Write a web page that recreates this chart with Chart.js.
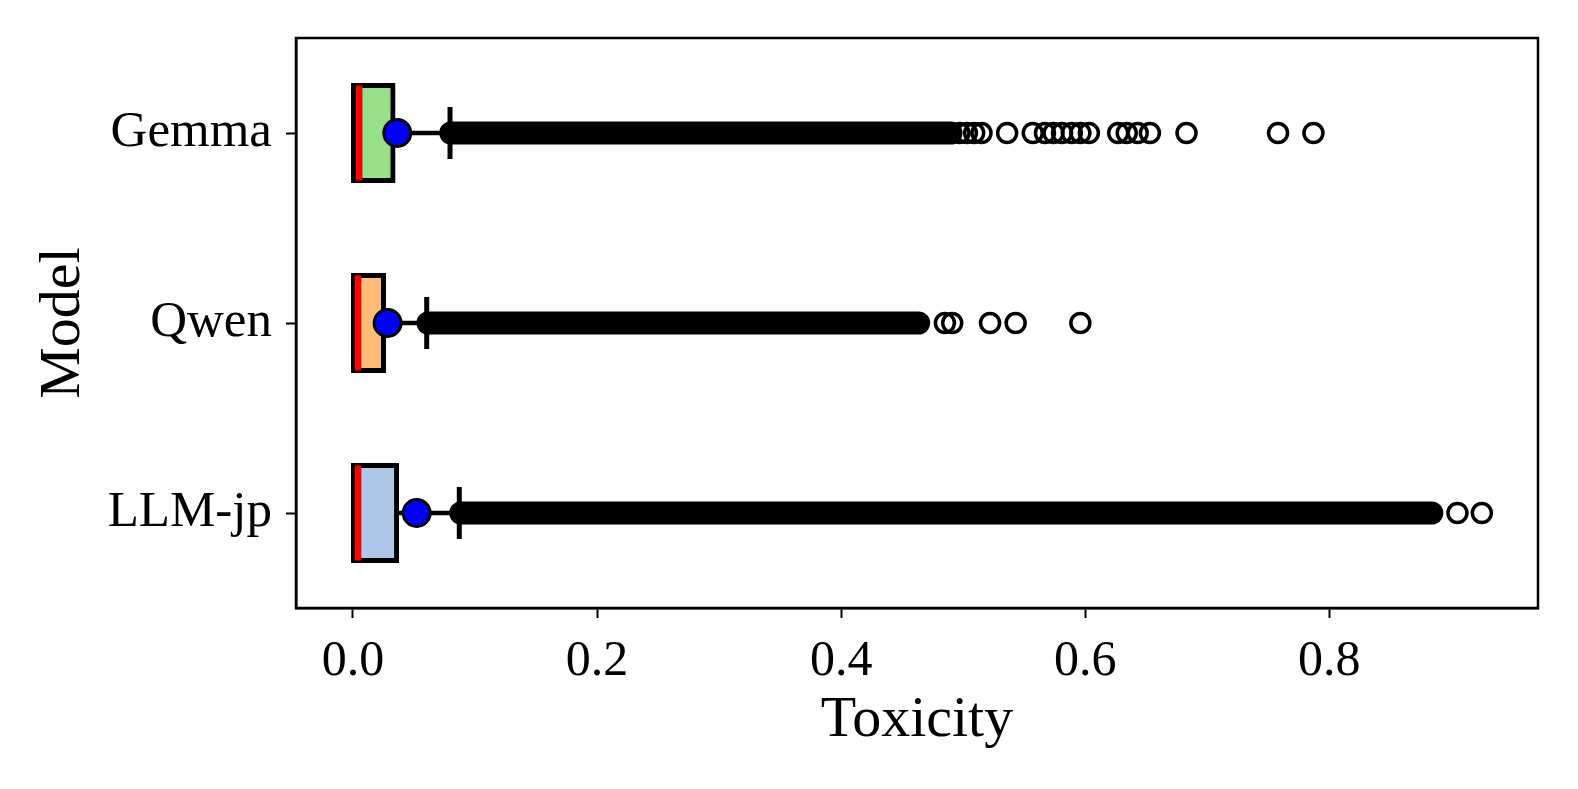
<!DOCTYPE html>
<html>
<head>
<meta charset="utf-8">
<title>Toxicity by model</title>
<script src="https://cdn.jsdelivr.net/npm/chart.js@4.4.1/dist/chart.umd.min.js"></script>
<style>
  html, body { margin: 0; padding: 0; background: #fff; }
</style>
</head>
<body>
<canvas id="toxChart" width="1578" height="789"></canvas>
<script>
const models = ['Gemma', 'Qwen', 'LLM-jp'];
const q1 = [0, 0, 0];
const q3 = [0.0328, 0.025, 0.0357];
const medians = [0.0051, 0.0042, 0.0042];
const means = [0.0363, 0.0284, 0.0522];
const whiskerHi = [0.0795, 0.0604, 0.0871];

// outliers packed so tight they read as one solid run: [first, last]
const denseRuns = [[0.0801, 0.490], [0.0614, 0.4635], [0.0883, 0.884]];

const gemmaOutliers = [0.497, 0.503, 0.509, 0.515, 0.536, 0.557, 0.567, 0.574, 0.581, 0.589,
  0.596, 0.603, 0.627, 0.634, 0.643, 0.653, 0.683, 0.758, 0.787];
const qwenOutliers = [0.485, 0.491, 0.522, 0.543, 0.596];
const llmjpOutliers = [0.905, 0.925];

const xTicks = [0, 0.2, 0.4, 0.6, 0.8];

const boxColors = ['#98df8a', '#ffbb78', '#aec7e8'];
const serif = 'Liberation Serif';

const atModels = vals => vals.map((v, i) => ({ x: v, y: models[i] }));
const outlierPoints = [gemmaOutliers, qwenOutliers, llmjpOutliers]
  .flatMap((vals, i) => vals.map(v => ({ x: v, y: models[i] })));

const segment = (from, to, i) => [{ x: from, y: models[i] }, { x: to, y: models[i] }];

const runDatasets = denseRuns.map((run, i) => ({
  type: 'line',
  data: segment(run[0], run[1], i),
  borderColor: '#000',
  borderWidth: 23,
  borderCapStyle: 'round',
  pointRadius: 0
}));

const whiskerDatasets = models.map((m, i) => ({
  type: 'line',
  data: segment(q3[i], whiskerHi[i], i),
  borderColor: '#000',
  borderWidth: 4.5,
  pointRadius: 0
}));

const frame = {
  id: 'frame',
  afterDatasetsDraw(chart) {
    const { ctx, chartArea: a } = chart;
    ctx.save();
    ctx.strokeStyle = '#000';
    ctx.lineWidth = 2.5;
    ctx.strokeRect(a.left, a.top, a.right - a.left, a.bottom - a.top);
    ctx.restore();
  }
};

new Chart(document.getElementById('toxChart'), {
  type: 'bar',
  data: {
    labels: models,
    datasets: [
      {
        type: 'scatter',
        data: atModels(means),
        pointRadius: 13.5,
        pointBackgroundColor: '#0000ff',
        pointBorderColor: '#000',
        pointBorderWidth: 3
      },
      {
        type: 'scatter',
        data: atModels(medians),
        pointStyle: 'line',
        rotation: 90,
        pointRadius: 47.5,
        pointBorderColor: '#ff0000',
        pointBorderWidth: 6.5
      },
      {
        type: 'scatter',
        data: outlierPoints,
        pointRadius: 9.5,
        pointBackgroundColor: 'rgba(0,0,0,0)',
        pointBorderColor: '#000',
        pointBorderWidth: 3.5
      },
      ...runDatasets,
      {
        type: 'scatter',
        data: atModels(whiskerHi),
        pointStyle: 'line',
        rotation: 90,
        pointRadius: 26,
        pointBorderColor: '#000',
        pointBorderWidth: 5
      },
      ...whiskerDatasets,
      {
        data: q1.map((v, i) => [v, q3[i]]),
        backgroundColor: boxColors,
        borderColor: '#000',
        borderWidth: 5,
        borderSkipped: false,
        inflateAmount: 2.5,
        barPercentage: 0.5,
        categoryPercentage: 1,
        grouped: false
      }
    ]
  },
  options: {
    indexAxis: 'y',
    responsive: false,
    animation: false,
    events: [],
    layout: { autoPadding: false, padding: { top: 38, right: 40, left: 0, bottom: 0 } },
    plugins: { legend: { display: false }, tooltip: { enabled: false } },
    scales: {
      x: {
        type: 'linear',
        min: -0.0467,
        max: 0.971,
        afterBuildTicks: s => { s.ticks = xTicks.map(v => ({ value: v })); },
        afterFit: s => { s.height = 181; },
        ticks: {
          callback: v => v.toFixed(1),
          color: '#000',
          padding: 14,
          font: { family: serif, size: 50 }
        },
        grid: { drawOnChartArea: false, tickLength: 10, tickWidth: 2, tickColor: '#000' },
        border: { color: '#000', width: 2.5 },
        title: {
          display: true,
          text: 'Toxicity',
          color: '#000',
          font: { family: serif, size: 58 },
          padding: { top: 0, bottom: 33 }
        }
      },
      y: {
        type: 'category',
        labels: models,
        offset: true,
        afterFit: s => { s.width = 296; },
        ticks: {
          color: '#000',
          padding: 14,
          font: { family: serif, size: 51, lineHeight: 0.9 }
        },
        grid: { drawOnChartArea: false, tickLength: 10, tickWidth: 2, tickColor: '#000', offset: false },
        border: { color: '#000', width: 2.5 },
        title: {
          display: true,
          text: 'Model',
          color: '#000',
          font: { family: serif, size: 58 },
          padding: { top: 29, bottom: 0 }
        }
      }
    }
  },
  plugins: [frame]
});
</script>
</body>
</html>
